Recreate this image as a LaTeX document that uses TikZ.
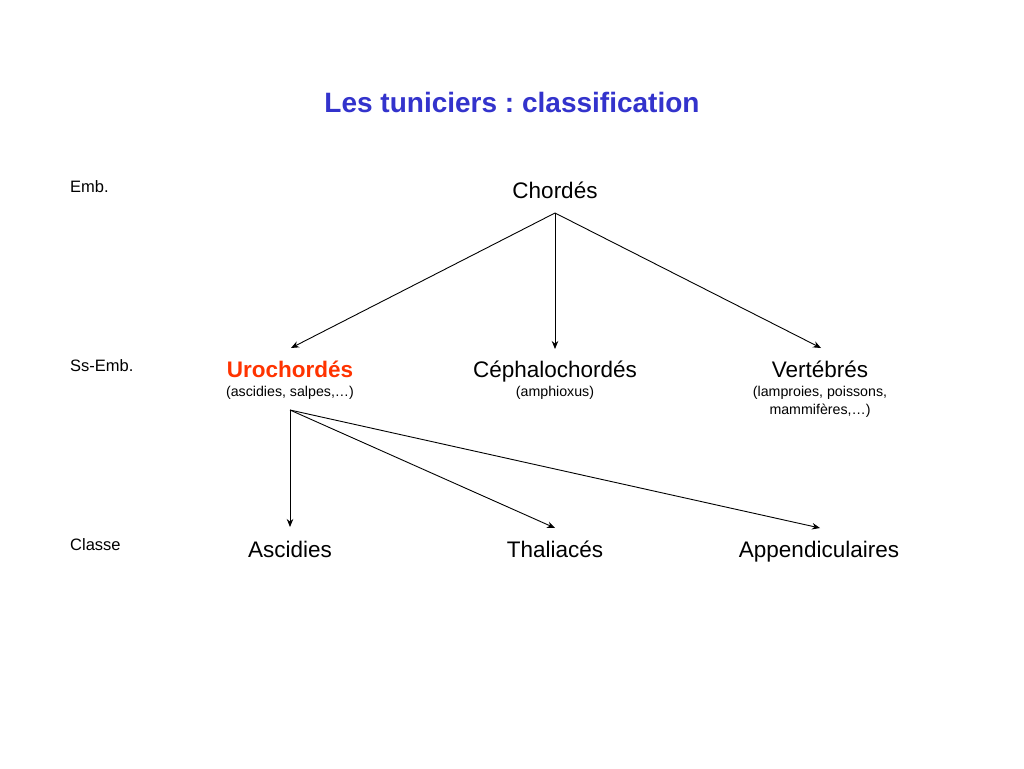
\documentclass[tikz,border=0pt]{standalone}
\usepackage{fontspec}
\setmainfont{Liberation Sans}
\usetikzlibrary{arrows.meta}
\definecolor{titleblue}{RGB}{51,51,204}
\definecolor{urored}{RGB}{255,51,0}
\frenchspacing
\begin{document}
\begin{tikzpicture}[x=1pt,y=-1pt,
  big/.style={font=\fontsize{22.5}{27}\selectfont,inner sep=0pt,anchor=base},
  small/.style={font=\fontsize{14.2}{18}\selectfont,inner sep=0pt,align=center,anchor=base},
  lvl/.style={font=\fontsize{16.5}{19}\selectfont,inner sep=0pt,anchor=base west},
  arr/.style={-{Stealth[length=8pt,width=6.5pt]},line width=0.9pt}]
\useasboundingbox[fill=white] (0,0) rectangle (1024,768);
\node[font=\bfseries\fontsize{28}{33}\selectfont,text=titleblue,inner sep=0pt,anchor=base] (title) at (512,112) {Les tuniciers : classification};
\node[lvl] (emb) at (70,192) {Emb.};
\node[lvl] (ssemb) at (70,371) {Ss-Emb.};
\node[lvl] (classe) at (70,550) {Classe};
\node[big] (chordes) at (555,198) {Chordés};
\node[big,font=\bfseries\fontsize{22.5}{27}\selectfont,text=urored] (uro) at (290,377) {Urochordés};
\node[small] (urosub) at (290,396) {(ascidies, salpes,…)};
\node[big] (cepha) at (555,377) {Céphalochordés};
\node[small] (cephasub) at (555,396) {(amphioxus)};
\node[big] (vert) at (820,377) {Vertébrés};
\node[small] (vertsub) at (820,414) {(lamproies, poissons,\\mammifères,…)};
\node[big] (asc) at (290,557) {Ascidies};
\node[big] (thal) at (555,557) {Thaliacés};
\node[big] (app) at (819,557) {Appendiculaires};
\coordinate (c0) at (555,213);
\coordinate (u0) at (290,410);
\coordinate (t1) at (291,348);
\coordinate (t2) at (555,349);
\coordinate (t3) at (821,348);
\coordinate (s1) at (290,527);
\coordinate (s2) at (555,528);
\coordinate (s3) at (820,528);
\draw[arr] (c0) -- (t1);
\draw[arr] (c0) -- (t2);
\draw[arr] (c0) -- (t3);
\draw[arr] (u0) -- (s1);
\draw[arr] (u0) -- (s2);
\draw[arr] (u0) -- (s3);
\end{tikzpicture}
\end{document}
